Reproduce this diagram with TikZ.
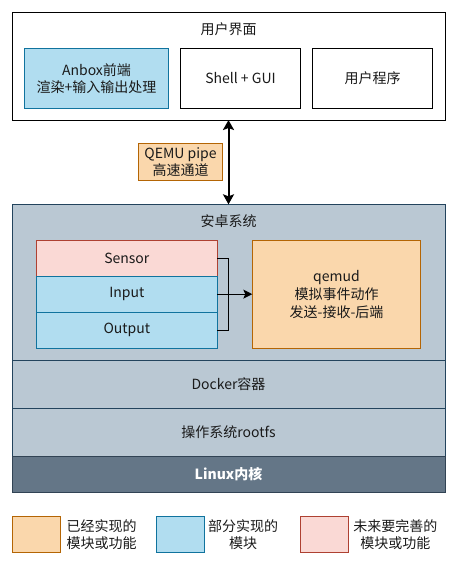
\documentclass[tikz,border=0pt]{standalone}
\usepackage{fontspec}
\setmainfont{Noto Sans CJK SC}
\usetikzlibrary{arrows.meta}
\definecolor{orgF}{HTML}{FAD7AC}\definecolor{orgD}{HTML}{B46504}
\definecolor{bluF}{HTML}{B1DDF0}\definecolor{bluD}{HTML}{10739E}
\definecolor{redF}{HTML}{FAD9D5}\definecolor{redD}{HTML}{AE4132}
\definecolor{grF}{HTML}{BAC8D3}\definecolor{grD}{HTML}{23445D}
\definecolor{lnF}{HTML}{647687}\definecolor{lnD}{HTML}{314354}
\definecolor{txt}{HTML}{1A1A1A}
\begin{document}
\begin{tikzpicture}[x=1pt,y=-1pt,
  every node/.style={font=\fontsize{14}{17.6}\selectfont, text=txt, align=center, inner sep=0pt, outer sep=0pt},
  box/.style={draw, line width=1pt, rectangle},
  whitebox/.style={box, draw=black, fill=white},
  donebox/.style={box, draw=orgD, fill=orgF},
  partbox/.style={box, draw=bluD, fill=bluF},
  futbox/.style={box, draw=redD, fill=redF},
  layerbox/.style={box, draw=grD, fill=grF},
  kernbox/.style={box, draw=lnD, fill=lnF, text=white, font=\fontsize{14}{17.6}\selectfont\bfseries},
  conn/.style={line width=1pt, draw=black},
]
\useasboundingbox (0,0) rectangle (458,566);
% user interface
\node[whitebox, minimum width=433, minimum height=108] (ui) at (228.5,66) {};
\node (uit) at (228.5,29) {用户界面};
\node[partbox, minimum width=144.4, minimum height=60] (anbox) at (96.5,78.5) {Anbox前端\\渲染+输入输出处理};
\node[whitebox, minimum width=120.4, minimum height=60] (shell) at (240.5,78.5) {Shell + GUI};
\node[whitebox, minimum width=120.4, minimum height=60] (app) at (372.5,78.5) {用户程序};
% android
\node[layerbox, minimum width=433, minimum height=155.7] (android) at (228.5,282.2) {};
\node (andt) at (228.5,221) {安卓系统};
\node[futbox, minimum width=180.3, minimum height=35.3] (sensor) at (126.85,258.35) {Sensor};
\node[partbox, minimum width=180.3, minimum height=36.3] (input) at (126.85,294.15) {Input};
\node[partbox, minimum width=180.3, minimum height=36] (output) at (126.85,330.3) {Output};
\node[donebox, minimum width=168.4, minimum height=107.6] (qemud) at (336.5,294.5) {qemud\\模拟事件动作\\发送-接收-后端};
\node[layerbox, minimum width=433, minimum height=48.3] (docker) at (228.5,384.15) {Docker容器};
\node[layerbox, minimum width=433, minimum height=48] (rootfs) at (228.5,432.3) {操作系统rootfs};
\node[kernbox, minimum width=433, minimum height=36] (linux) at (228.5,474.3) {Linux内核};
% pipe
\draw[line width=2pt, {Stealth[length=10pt,width=11pt,inset=2pt]}-{Stealth[length=10pt,width=11pt,inset=2pt]}] (ui.south) -- (android.north);
\node[donebox, minimum width=83.6, minimum height=36.3] (pipe) at (180.5,162) {QEMU pipe\\高速通道};
% connectors
\coordinate (j) at (228.7,294.5);
\draw[conn] (sensor.east) -| (j);
\draw[conn] (output.east) -| (j);
\draw[conn, -{Stealth[length=9pt,width=9pt,inset=2pt]}] (input.east) -- (input.east -| qemud.west);
% legend
\node[donebox, minimum width=48.4, minimum height=36] (lg1) at (36.5,534.7) {};
\node (lt1) at (101.7,534.5) {已经实现的\\模块或功能};
\node[partbox, minimum width=48.4, minimum height=36] (lg2) at (180.5,534.7) {};
\node (lt2) at (243,534.5) {部分实现的\\模块};
\node[futbox, minimum width=48.4, minimum height=36] (lg3) at (324.5,534.7) {};
\node (lt3) at (395.3,534.5) {未来要完善的\\模块或功能};
\end{tikzpicture}
\end{document}
